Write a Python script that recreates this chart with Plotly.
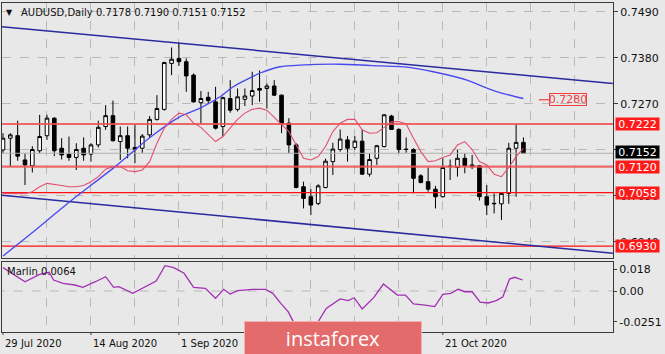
import plotly.graph_objects as go

# ---------------- data ----------------
bars = list(range(72))
open_ = [0.7160, 0.7188, 0.7194, 0.7136, 0.7122, 0.7158, 0.7194, 0.7236, 0.7164, 0.7150,
         0.7142, 0.7164, 0.7150, 0.7172, 0.7216, 0.7242, 0.7180, 0.7194, 0.7166, 0.7164,
         0.7196, 0.7233, 0.7257, 0.7367, 0.7379, 0.7371, 0.7339, 0.7273, 0.7286, 0.7275,
         0.7216, 0.7283, 0.7257, 0.7281, 0.7289, 0.7307, 0.7307, 0.7313, 0.7291, 0.7224,
         0.7172, 0.7072, 0.7048, 0.7032, 0.7070, 0.7132, 0.7161, 0.7184, 0.7166, 0.7181,
         0.7102, 0.7140, 0.7168, 0.7241, 0.7209, 0.7162, 0.7161, 0.7098, 0.7084, 0.7066,
         0.7048, 0.7120, 0.7118, 0.7140, 0.7124, 0.7122, 0.7048, 0.7031, 0.7031, 0.7056,
         0.7164, 0.7178]
high = [0.7200, 0.7200, 0.7230, 0.7152, 0.7169, 0.7244, 0.7244, 0.7238, 0.7188, 0.7192,
        0.7176, 0.7190, 0.7176, 0.7230, 0.7267, 0.7278, 0.7216, 0.7216, 0.7220, 0.7198,
        0.7241, 0.7291, 0.7371, 0.7405, 0.7417, 0.7379, 0.7343, 0.7301, 0.7299, 0.7311,
        0.7287, 0.7327, 0.7307, 0.7307, 0.7347, 0.7350, 0.7319, 0.7327, 0.7293, 0.7236,
        0.7176, 0.7084, 0.7066, 0.7078, 0.7139, 0.7177, 0.7209, 0.7193, 0.7193, 0.7209,
        0.7152, 0.7172, 0.7246, 0.7244, 0.7212, 0.7190, 0.7164, 0.7102, 0.7118, 0.7074,
        0.7140, 0.7137, 0.7160, 0.7152, 0.7148, 0.7124, 0.7076, 0.7056, 0.7058, 0.7177,
        0.7222, 0.7190]
low = [0.7153, 0.7120, 0.7134, 0.7076, 0.7106, 0.7152, 0.7184, 0.7145, 0.7137, 0.7134,
       0.7112, 0.7134, 0.7132, 0.7166, 0.7208, 0.7180, 0.7136, 0.7140, 0.7128, 0.7153,
       0.7190, 0.7230, 0.7254, 0.7339, 0.7361, 0.7299, 0.7273, 0.7224, 0.7271, 0.7209,
       0.7193, 0.7249, 0.7252, 0.7265, 0.7267, 0.7275, 0.7259, 0.7289, 0.7200, 0.7152,
       0.7068, 0.7020, 0.7004, 0.7028, 0.7068, 0.7100, 0.7156, 0.7132, 0.7160, 0.7100,
       0.7096, 0.7124, 0.7166, 0.7208, 0.7152, 0.7153, 0.7056, 0.7080, 0.7060, 0.7020,
       0.7046, 0.7088, 0.7096, 0.7104, 0.7114, 0.7039, 0.7004, 0.7008, 0.6992, 0.7031,
       0.7048, 0.7151]
close = [0.7188, 0.7196, 0.7145, 0.7124, 0.7161, 0.7192, 0.7236, 0.7158, 0.7148, 0.7142,
         0.7161, 0.7148, 0.7172, 0.7214, 0.7242, 0.7182, 0.7194, 0.7164, 0.7162, 0.7193,
         0.7233, 0.7259, 0.7369, 0.7377, 0.7371, 0.7337, 0.7275, 0.7283, 0.7278, 0.7212,
         0.7285, 0.7255, 0.7287, 0.7289, 0.7302, 0.7303, 0.7313, 0.7291, 0.7222, 0.7172,
         0.7070, 0.7044, 0.7028, 0.7074, 0.7133, 0.7162, 0.7186, 0.7164, 0.7181, 0.7102,
         0.7137, 0.7170, 0.7244, 0.7209, 0.7161, 0.7161, 0.7092, 0.7082, 0.7066, 0.7048,
         0.7118, 0.7121, 0.7140, 0.7122, 0.7120, 0.7048, 0.7028, 0.7032, 0.7056, 0.7164,
         0.7178, 0.7152]

ma_fast = [0.7056, 0.7056, 0.7055, 0.7055, 0.7060, 0.7072, 0.7080, 0.7078, 0.7075, 0.7072,
           0.7072, 0.7075, 0.7084, 0.7096, 0.7114, 0.7120, 0.7120, 0.7110, 0.7108, 0.7112,
           0.7132, 0.7176, 0.7212, 0.7233, 0.7248, 0.7244, 0.7224, 0.7214, 0.7196, 0.7180,
           0.7192, 0.7212, 0.7233, 0.7248, 0.7257, 0.7260, 0.7255, 0.7238, 0.7220, 0.7204,
           0.7172, 0.7140, 0.7136, 0.7144, 0.7168, 0.7204, 0.7224, 0.7233, 0.7233, 0.7208,
           0.7200, 0.7201, 0.7214, 0.7227, 0.7228, 0.7222, 0.7188, 0.7156, 0.7132, 0.7134,
           0.7142, 0.7148, 0.7172, 0.7180, 0.7161, 0.7132, 0.7124, 0.7102, 0.7096, 0.7118,
           0.7144, 0.7164]

ma_slow_x = [0, 4.4, 9.1, 15.3, 20, 24.1, 26.9, 29.6, 31.4, 35.1, 37.8, 40.5, 46, 51.4,
             55.1, 58.7, 63.3, 66, 67.8, 71]
ma_slow_y = [0.6906, 0.6968, 0.7036, 0.7120, 0.7189, 0.7239, 0.7260, 0.7287, 0.7311, 0.7344,
             0.7359, 0.7363, 0.7365, 0.7361, 0.7358, 0.7347, 0.7327, 0.7308, 0.7297, 0.7283]

chan_x = [-0.4, 83.2]
chan_upper = [0.7455, 0.7319]
chan_lower = [0.7052, 0.6913]

levels_strong = [0.7222, 0.7120]
levels_thin = [0.7058, 0.6930]
last_price = 0.7152
target_price = 0.7280

marlin_x = [0, 3, 5, 6.3, 6.9, 8.2, 9.8, 10.9, 12.6, 14, 15.1, 15.8, 17.7, 19.3, 20.9, 22.1,
            23.3, 24.7, 26, 27.6, 29, 30.1, 31, 32, 34.1, 35.8, 36.8, 37.9, 38.9, 39.6, 41, 42,
            43, 44.1, 46, 47.1, 47.9, 49, 50.6, 51.9, 53.8, 54.9, 56, 57.6, 58.9, 60, 61.1,
            62.1, 63, 64, 65.1, 66.2, 67.3, 68.2, 69.1, 69.8, 70.9]
marlin_y = [0.0191, 0.0076, 0.0136, 0.0153, 0.0090, 0.0063, 0.0049, 0.0030, 0.0076, 0.0117,
            0.0030, 0.0035, -0.0019, 0.0030, 0.0082, 0.0207, 0.0191, 0.0145, 0.0030, 0.0022,
            -0.0060, 0.0014, -0.0025, 0.0003, 0.0014, 0.0014, -0.0019, -0.0101, -0.0169,
            -0.0251, -0.0300, -0.0300, -0.0251, -0.0142, -0.0065, -0.0079, -0.0055, -0.0147,
            -0.0052, 0.0057, -0.0033, -0.0033, -0.0106, -0.0115, -0.0128, -0.0027, -0.0019,
            0.0014, -0.0006, -0.0006, -0.0092, -0.0098, -0.0079, -0.0047, 0.0098, 0.0112, 0.0090]
marlin_last = 0.0064

date_ticks = [0, 12, 24, 36, 48, 60]
date_labels = ["29 Jul 2020", "14 Aug 2020", "1 Sep 2020", "17 Sep 2020", "5 Oct 2020",
               "21 Oct 2020"]
price_ticks = [0.7490, 0.7380, 0.7270, 0.7160, 0.7050, 0.6940]
marlin_ticks = [0.018, 0.0, -0.0251]
marlin_tick_text = ["0.018", "0.00", "-0.0251"]

symbol = "AUDUSD,Daily"
ohlc_now = [0.7178, 0.7190, 0.7151, 0.7152]

# ---------------- geometry ----------------
W, H = 665, 354
def px(x):
    return x / W
def py(y):
    return 1 - y / H

BG = "#E8E8E8"
GRID = "#B9B9B9"
FRAME = "#3A3A3A"
FONT = "DejaVu Sans"

fig = go.Figure()

# levels
for lv in levels_strong:
    fig.add_trace(go.Scatter(x=[-1, 90], y=[lv, lv], mode="lines",
                             line=dict(color="rgba(238,80,80,0.85)", width=2.2),
                             hoverinfo="skip", showlegend=False))
for lv in levels_thin:
    fig.add_trace(go.Scatter(x=[-1, 90], y=[lv, lv], mode="lines",
                             line=dict(color="#FF1010", width=1.2),
                             hoverinfo="skip", showlegend=False))
# last price line
fig.add_trace(go.Scatter(x=[-1, 90], y=[last_price, last_price], mode="lines",
                         line=dict(color="#B0B0B0", width=1),
                         hoverinfo="skip", showlegend=False))
# channel
for cy in (chan_upper, chan_lower):
    fig.add_trace(go.Scatter(x=chan_x, y=cy, mode="lines",
                             line=dict(color="#2A2A9E", width=1.5),
                             hoverinfo="skip", showlegend=False))
# moving averages
fig.add_trace(go.Scatter(x=ma_slow_x, y=ma_slow_y, mode="lines",
                         line=dict(color="#4848F0", width=1.3, shape="spline", smoothing=0.6),
                         hoverinfo="skip", showlegend=False))
fig.add_trace(go.Scatter(x=bars, y=ma_fast, mode="lines",
                         line=dict(color="#E2506E", width=1.1),
                         hoverinfo="skip", showlegend=False))
# target marker line
fig.add_trace(go.Scatter(x=[73.1, 74.5], y=[target_price, target_price], mode="lines",
                         line=dict(color="#F04040", width=1.2),
                         hoverinfo="skip", showlegend=False))
# candles
fig.add_trace(go.Candlestick(x=bars, open=open_, high=high, low=low, close=close,
                             increasing=dict(line=dict(color="black", width=1), fillcolor="white"),
                             decreasing=dict(line=dict(color="black", width=1), fillcolor="black"),
                             whiskerwidth=0, hoverinfo="skip", showlegend=False))
# indicator
fig.add_trace(go.Scatter(x=[-1, 90], y=[0, 0], mode="lines", xaxis="x2", yaxis="y2",
                         line=dict(color=GRID, width=1, dash="dash"),
                         hoverinfo="skip", showlegend=False))
fig.add_trace(go.Scatter(x=marlin_x, y=marlin_y, mode="lines", xaxis="x2", yaxis="y2",
                         line=dict(color="#A32FB5", width=1.3),
                         hoverinfo="skip", showlegend=False))

xr = [-0.136, 83.22]
ymain = [0.69014, 0.75115]
yind = [-0.03355, 0.02373]

common_x = dict(range=xr, showline=True, mirror=True, linecolor=FRAME, linewidth=1,
                tickmode="linear", tick0=0, dtick=6, showgrid=True, gridcolor=GRID,
                griddash="dash", gridwidth=1, zeroline=False, showticklabels=False,
                domain=[px(2), px(613)], fixedrange=True)

fig.update_layout(
    width=W, height=H, margin=dict(l=0, r=0, t=0, b=0),
    paper_bgcolor=BG, plot_bgcolor=BG, showlegend=False,
    font=dict(family=FONT, size=11, color="#111111"),
    xaxis=dict(**common_x, anchor="y", rangeslider=dict(visible=False), ticks=""),
    yaxis=dict(domain=[py(258), py(3)], range=ymain, side="right", anchor="x",
               tickmode="array", tickvals=price_ticks,
               ticktext=[f"{v:.4f}" for v in price_ticks],
               showgrid=True, gridcolor=GRID, griddash="dash", zeroline=False,
               showline=True, mirror=True, linecolor=FRAME, linewidth=1,
               ticks="outside", ticklen=4, tickcolor=FRAME,
               tickfont=dict(family=FONT, size=11, color="#111111"), fixedrange=True),
    xaxis2=dict(**common_x, anchor="y2", matches="x", ticks=""),
    yaxis2=dict(domain=[py(332), py(262)], range=yind, side="right", anchor="x2",
                tickmode="array", tickvals=marlin_ticks, ticktext=marlin_tick_text,
                showgrid=False, zeroline=False,
                showline=True, mirror=True, linecolor=FRAME, linewidth=1,
                ticks="outside", ticklen=3, tickcolor=FRAME,
                tickfont=dict(family=FONT, size=11, color="#111111"), fixedrange=True),
)

ann = []
# title
ann.append(dict(text="▼", x=px(4), y=py(12), xref="paper", yref="paper", xanchor="left",
                yanchor="middle", showarrow=False, font=dict(size=8, color="#111111")))
ann.append(dict(text=symbol, x=px(19), y=py(12), xref="paper", yref="paper", xanchor="left",
                yanchor="middle", showarrow=False, font=dict(size=10, color="#111111")))
ann.append(dict(text=" ".join(f"{v:.4f}" for v in ohlc_now), x=px(94), y=py(12),
                xref="paper", yref="paper", xanchor="left", yanchor="middle",
                showarrow=False, font=dict(size=10, color="#111111")))
# indicator label
ann.append(dict(text=f"Marlin {marlin_last:.4f}", x=px(5), y=py(271), xref="paper",
                yref="paper", xanchor="left", yanchor="middle", showarrow=False,
                font=dict(size=10, color="#111111")))
# price boxes
for lv in levels_strong + levels_thin:
    ann.append(dict(text=f"{lv:.4f}", x=px(615), y=lv, xref="paper", yref="y",
                    xanchor="left", yanchor="middle", showarrow=False,
                    bgcolor="#FF1A1A", width=42, height=11, borderpad=0.5,
                    font=dict(size=11, color="white")))
ann.append(dict(text=f"{last_price:.4f}", x=px(615), y=last_price + 0.0002, xref="paper",
                yref="y", xanchor="left", yanchor="middle", showarrow=False,
                bgcolor="#000000", width=42, height=11, borderpad=0.5,
                font=dict(size=11, color="white")))
# target label
ann.append(dict(text=f"{target_price:.4f}", x=74.5, y=target_price, xref="x", yref="y",
                xanchor="left", yanchor="middle", showarrow=False,
                bordercolor="#F04040", borderwidth=1, borderpad=0, width=36, height=11,
                font=dict(size=11, color="#F04040")))
# date labels
for b, lab in zip(date_ticks, date_labels):
    ann.append(dict(text=lab, x=b, y=py(343), xref="x2", yref="paper", xanchor="left",
                    yanchor="middle", showarrow=False, font=dict(size=10, color="#111111")))
# logo
ann.append(dict(text="instaforex", x=px(332.5), y=py(338), xref="paper", yref="paper",
                xanchor="center", yanchor="middle", showarrow=False,
                bgcolor="#E36B6B", bordercolor="#F2B0B0", borderwidth=1, borderpad=0,
                width=176, height=32, font=dict(family="Open Sans", size=20, color="white")))
fig.update_layout(annotations=ann)

# small bottom tick marks at date labels
for b in date_ticks:
    fig.add_shape(type="line", x0=b, x1=b, xref="x2", y0=py(332), y1=py(335), yref="paper",
                  line=dict(color=FRAME, width=1))

fig.write_html("out.html")
